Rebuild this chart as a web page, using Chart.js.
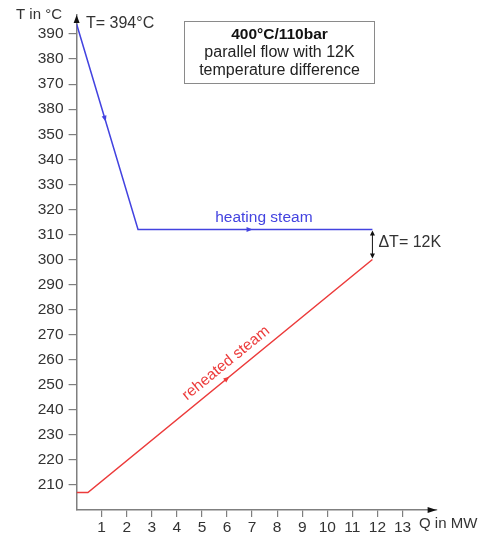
<!DOCTYPE html>
<html>
<head>
<meta charset="utf-8">
<script src="https://cdn.jsdelivr.net/npm/chart.js@4/dist/chart.umd.min.js"></script>
<style>
  html, body { margin: 0; padding: 0; background: #fff; }
  canvas { display: block; }
</style>
</head>
<body>
<canvas id="c" width="480" height="533"></canvas>
<script>
// Heat transfer diagram: heating steam vs. reheated steam (parallel flow)
const heatQ = [0, 2.45, 11.8];       // MW
const heatT = [394, 312, 312];       // °C
const reheatQ = [0, 0.45, 11.8];     // MW
const reheatT = [207, 207, 300];     // °C

const xTickValues = [1, 2, 3, 4, 5, 6, 7, 8, 9, 10, 11, 12, 13];
const xTickLabels = ['1', '2', '3', '4', '5', '6', '7', '8', '9', '10', '11', '12', '13'];
const yTickValues = [210, 220, 230, 240, 250, 260, 270, 280, 290, 300, 310, 320, 330, 340, 350, 360, 370, 380, 390];
const yTickLabels = ['210', '220', '230', '240', '250', '260', '270', '280', '290', '300', '310', '320', '330', '340', '350', '380', '370', '380', '390'];

const startT = 394;    // inlet temperature of heating steam
const deltaT = 12;     // terminal temperature difference

const FONT = '"Liberation Sans", Arial, Helvetica, sans-serif';
const BLUE = '#4343e0';
const RED = '#ec3b3b';
const AXIS = '#7f7f7f';
const TEXT = '#333333';

function pts(xs, ys) { return xs.map((x, i) => ({ x: x, y: ys[i] })); }

function tri(ctx, x, y, angle, len, half, color) {
  ctx.save();
  ctx.translate(x, y);
  ctx.rotate(angle);
  ctx.beginPath();
  ctx.moveTo(0, 0);
  ctx.lineTo(-len, -half);
  ctx.lineTo(-len, half);
  ctx.closePath();
  ctx.fillStyle = color;
  ctx.fill();
  ctx.restore();
}

// direction marker placed on a segment at a given Q
function flowArrow(ctx, xs, ys, q, i, sx, sy, color) {
  const x0 = sx.getPixelForValue(xs[i]), y0 = sy.getPixelForValue(ys[i]);
  const x1 = sx.getPixelForValue(xs[i + 1]), y1 = sy.getPixelForValue(ys[i + 1]);
  const t = (q - xs[i]) / (xs[i + 1] - xs[i]);
  const px = x0 + (x1 - x0) * t, py = y0 + (y1 - y0) * t;
  const a = Math.atan2(y1 - y0, x1 - x0);
  tri(ctx, px + Math.cos(a) * 3, py + Math.sin(a) * 3, a, 6, 2.5, color);
}

const decorations = {
  id: 'decorations',
  afterDraw(chart) {
    const ctx = chart.ctx;
    const sx = chart.scales.x, sy = chart.scales.y;
    const area = chart.chartArea;
    ctx.save();

    // axis arrowheads
    tri(ctx, area.left, area.top, -Math.PI / 2, 8, 3, '#111');
    tri(ctx, area.right, area.bottom, 0, 9, 3, '#111');

    // axis titles
    ctx.fillStyle = TEXT;
    ctx.font = '15px ' + FONT;
    ctx.textBaseline = 'middle';
    ctx.textAlign = 'right';
    ctx.fillText('T in °C', 62, 15);
    ctx.textAlign = 'left';
    ctx.fillText('Q in MW', 419, 524);

    // flow direction markers
    flowArrow(ctx, heatQ, heatT, 1.13, 0, sx, sy, BLUE);
    flowArrow(ctx, heatQ, heatT, 6.9, 1, sx, sy, BLUE);
    flowArrow(ctx, reheatQ, reheatT, 6.0, 1, sx, sy, RED);

    // inlet temperature note
    ctx.fillStyle = TEXT;
    ctx.font = '16px ' + FONT;
    ctx.textAlign = 'left';
    ctx.fillText('T= ' + startT + '°C', 86, sy.getPixelForValue(startT));

    // heating steam label
    ctx.fillStyle = BLUE;
    ctx.font = '15.5px ' + FONT;
    ctx.textAlign = 'center';
    ctx.textBaseline = 'alphabetic';
    ctx.fillText('heating steam', sx.getPixelForValue(7.47), sy.getPixelForValue(heatT[2]) - 7);

    // reheated steam label along the line
    const rx0 = sx.getPixelForValue(reheatQ[1]), ry0 = sy.getPixelForValue(reheatT[1]);
    const rx1 = sx.getPixelForValue(reheatQ[2]), ry1 = sy.getPixelForValue(reheatT[2]);
    const ang = Math.atan2(ry1 - ry0, rx1 - rx0);
    ctx.save();
    ctx.translate(sx.getPixelForValue(5.96), sy.getPixelForValue(258.6));
    ctx.rotate(ang);
    ctx.fillStyle = RED;
    ctx.font = '15.5px ' + FONT;
    ctx.textAlign = 'center';
    ctx.textBaseline = 'middle';
    ctx.fillText('reheated steam', 0, 0);
    ctx.restore();

    // temperature difference at outlet
    const qx = sx.getPixelForValue(heatQ[2]);
    const yTop = sy.getPixelForValue(heatT[2]) + 1;
    const yBot = sy.getPixelForValue(heatT[2] - deltaT) - 1;
    ctx.strokeStyle = '#111';
    ctx.lineWidth = 1;
    ctx.beginPath();
    ctx.moveTo(qx, yTop + 4);
    ctx.lineTo(qx, yBot - 4);
    ctx.stroke();
    tri(ctx, qx, yTop, -Math.PI / 2, 5, 2.5, '#111');
    tri(ctx, qx, yBot, Math.PI / 2, 5, 2.5, '#111');
    ctx.fillStyle = TEXT;
    ctx.font = '16px ' + FONT;
    ctx.textAlign = 'left';
    ctx.textBaseline = 'middle';
    ctx.fillText('\u0394T= ' + deltaT + 'K', qx + 6, (yTop + yBot) / 2 - 2);

    // info box
    ctx.strokeStyle = '#8a8a8a';
    ctx.lineWidth = 1;
    ctx.strokeRect(184.5, 21.5, 190, 62);
    ctx.fillStyle = '#111';
    ctx.textAlign = 'center';
    ctx.font = 'bold 15.5px ' + FONT;
    ctx.fillText('400°C/110bar', 279.5, 35);
    ctx.font = '16px ' + FONT;
    ctx.fillStyle = '#222';
    ctx.fillText('parallel flow with 12K', 279.5, 53);
    ctx.fillText('temperature difference', 279.5, 71);

    ctx.restore();
  }
};

new Chart(document.getElementById('c'), {
  type: 'line',
  data: {
    datasets: [
      { label: 'heating steam', data: pts(heatQ, heatT), borderColor: BLUE, borderWidth: 1.5, pointRadius: 0, tension: 0, fill: false },
      { label: 'reheated steam', data: pts(reheatQ, reheatT), borderColor: RED, borderWidth: 1.5, pointRadius: 0, tension: 0, fill: false }
    ]
  },
  options: {
    responsive: false,
    animation: false,
    events: [],
    layout: { padding: { top: 15, right: 43.4, left: 0, bottom: 0 } },
    plugins: { legend: { display: false }, tooltip: { enabled: false } },
    scales: {
      x: {
        type: 'linear',
        min: 0,
        max: 14.36,
        afterBuildTicks(s) { s.ticks = xTickValues.map(v => ({ value: v })); },
        afterFit(s) { s.height = 23; },
        ticks: {
          autoSkip: false, maxRotation: 0, padding: 1,
          color: TEXT, font: { family: FONT, size: 15.5 },
          callback: (v, i) => xTickLabels[i]
        },
        grid: { drawOnChartArea: false, drawTicks: true, tickLength: 7, color: AXIS, lineWidth: 1.2 },
        border: { display: true, color: AXIS, width: 1.5 }
      },
      y: {
        type: 'linear',
        min: 200,
        max: 397.6,
        afterBuildTicks(s) { s.ticks = yTickValues.map(v => ({ value: v })); },
        afterFit(s) { s.width = 76.6; },
        ticks: {
          autoSkip: false, padding: 5,
          color: TEXT, font: { family: FONT, size: 15.5 },
          callback: (v, i) => yTickLabels[i]
        },
        grid: { drawOnChartArea: false, drawTicks: true, tickLength: 8, color: AXIS, lineWidth: 1.2 },
        border: { display: true, color: AXIS, width: 1.5 }
      }
    }
  },
  plugins: [decorations]
});
</script>
</body>
</html>
